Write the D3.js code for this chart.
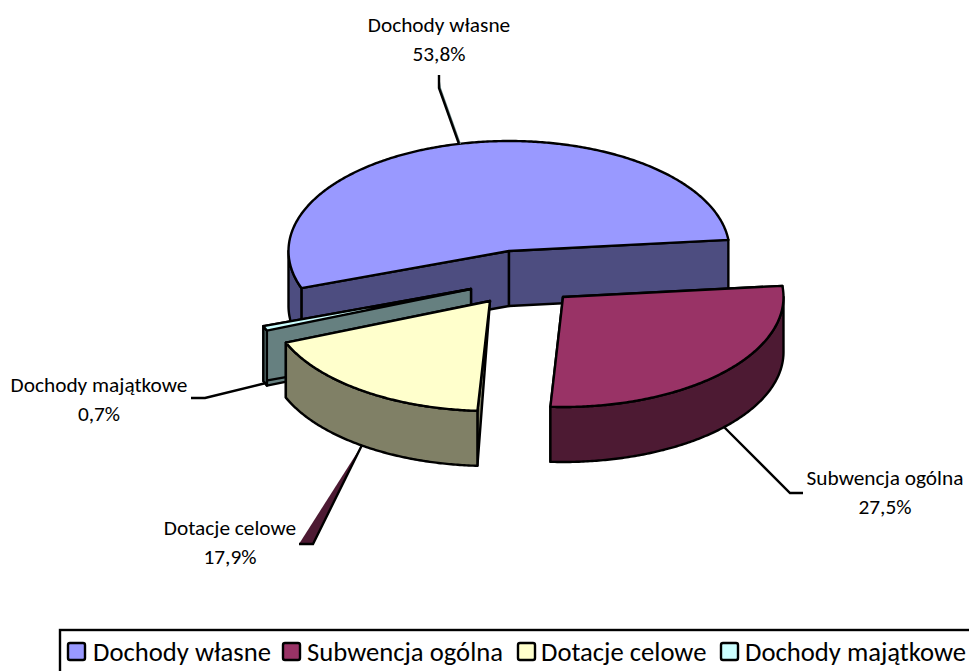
<!DOCTYPE html>
<html lang="pl">

<head>
  <meta charset="utf-8">
  <title>Dochody</title>
  <style>
    html, body { margin: 0; padding: 0; background: #fff; overflow: hidden; }
    text { font-family: Carlito, Lato, "Open Sans", sans-serif; fill: #000; }
  </style>
</head>

<body>
  <div id="chart-area"></div>

  <script src="https://cdnjs.cloudflare.com/ajax/libs/d3/7.8.5/d3.min.js"></script>
  <script>
    var categories = ["Dochody własne", "Subwencja ogólna", "Dotacje celowe", "Dochody majątkowe"];
    var shares = [53.8, 27.5, 17.9, 0.7];
    var shareLabels = ["53,8%", "27,5%", "17,9%", "0,7%"];

    var svgWidth = 969;
    var svgHeight = 671;

    var rx = 220.5;
    var ry = 110;
    var depth = 55;
    var firstAngle = 250.3 * Math.PI / 180;
    var edgeWidth = 2.4;

    var topColors = ["#9999ff", "#993366", "#ffffcc", "#ccffff"];
    var sideColors = ["#4d4d80", "#4d1a33", "#808066", "#668080"];

    // apex of every slice, the chart pulls them apart by hand
    var apexes = [[509, 251], [563, 297], [490, 301], [471, 289]];

    var svg = d3.select("#chart-area")
                .append("svg")
                .attr("width", svgWidth)
                .attr("height", svgHeight)
                .style("display", "block");

    var pie = d3.pie()
                .sort(null)
                .startAngle(firstAngle)
                .endAngle(firstAngle + 2 * Math.PI);

    var line = d3.line();

    // clock angle -> screen point on the flattened circle
    function onRim(apex, angle, drop) {
      return [apex[0] + rx * Math.sin(angle), apex[1] - ry * Math.cos(angle) + (drop || 0)];
    }

    function rimPoints(apex, from, to, drop) {
      var n = Math.max(2, Math.ceil(Math.abs(to - from) / 0.01));
      return d3.range(n + 1).map((i) => onRim(apex, from + (to - from) * i / n, drop));
    }

    function drawFace(points, fill) {
      svg.append("path")
         .attr("d", line(points) + "Z")
         .attr("fill", fill)
         .attr("stroke", "#000")
         .attr("stroke-width", edgeWidth)
         .attr("stroke-linejoin", "round");
    }

    // the part of a slice's rim that faces the viewer (90..270 deg, also one turn on)
    function frontRanges(from, to) {
      var ranges = [];
      [0, 2 * Math.PI].forEach((turn) => {
        var a = Math.max(from, Math.PI / 2 + turn);
        var b = Math.min(to, 3 * Math.PI / 2 + turn);
        if (b > a) ranges.push([a, b]);
      });
      return ranges;
    }

    function drawSlice(d, i) {
      var apex = apexes[i];
      var low = [apex[0], apex[1] + depth];

      // cut faces first, the convex slices hide the ones turned away
      [d.startAngle, d.endAngle].forEach((angle) => {
        var face = [apex, onRim(apex, angle), onRim(apex, angle, depth)];
        // the yellow slice's cut face narrows to a point at the apex
        if (i !== 2) face.push(low);
        drawFace(face, sideColors[i]);
      });

      frontRanges(d.startAngle, d.endAngle).forEach((r) => {
        var upper = rimPoints(apex, r[0], r[1], 0);
        var lower = rimPoints(apex, r[1], r[0], depth);
        drawFace(upper.concat(lower), sideColors[i]);
      });

      var top = [apex].concat(rimPoints(apex, d.startAngle, d.endAngle, 0));
      drawFace(top, topColors[i]);
    }

    // Excel paints back to front
    var slices = pie(shares);
    [0, 3, 2, 1].forEach((i) => drawSlice(slices[i], i));

    // leader lines
    var leaders = [
      { points: [[439, 75], [439, 88], [459, 144]], sliver: [[439, 75], [441, 88], [461, 144], [459, 144], [439, 88]], fill: "#668080" },
      { points: [[724, 427], [790, 493], [803, 493]] },
      { points: [[362, 445], [313, 544], [299, 544]], sliver: [[362, 445], [313, 544], [299, 544]], fill: "#4d1a33" },
      { points: [[266, 383], [205, 398], [191, 398]] }
    ];

    leaders.forEach((l) => {
      if (l.sliver) {
        svg.append("path").attr("d", line(l.sliver) + "Z").attr("fill", l.fill);
      }
      svg.append("path")
         .attr("d", line(l.points))
         .attr("fill", "none")
         .attr("stroke", "#000")
         .attr("stroke-width", edgeWidth);
    });

    // data labels
    var labelSpots = [[439, 32], [885, 485], [230, 535], [99, 392]];

    categories.forEach((name, i) => {
      [name, shareLabels[i]].forEach((str, row) => {
        svg.append("text")
           .attr("text-anchor", "middle")
           .attr("x", labelSpots[i][0])
           .attr("y", labelSpots[i][1] + row * 29)
           .attr("font-size", 21.33)
           .text(str);
      });
    });

    // legend, runs past the right and bottom edge in the reference
    svg.append("rect")
       .attr("x", 60)
       .attr("y", 630)
       .attr("width", 940)
       .attr("height", 80)
       .attr("fill", "#fff")
       .attr("stroke", "#000")
       .attr("stroke-width", edgeWidth);

    var legendKeyX = d3.scaleOrdinal().domain(categories).range([68, 283, 518, 721]);
    var legendTextX = d3.scaleOrdinal().domain(categories).range([93, 307, 541, 745]);

    categories.forEach((name, i) => {
      svg.append("rect")
         .attr("x", legendKeyX(name))
         .attr("y", 643)
         .attr("width", 17)
         .attr("height", 17)
         .attr("rx", 2)
         .attr("fill", topColors[i])
         .attr("stroke", "#000")
         .attr("stroke-width", edgeWidth);
      svg.append("text")
         .attr("x", legendTextX(name))
         .attr("y", 661)
         .attr("font-size", 26.67)
         .text(name);
    });
  </script>
</body>

</html>
